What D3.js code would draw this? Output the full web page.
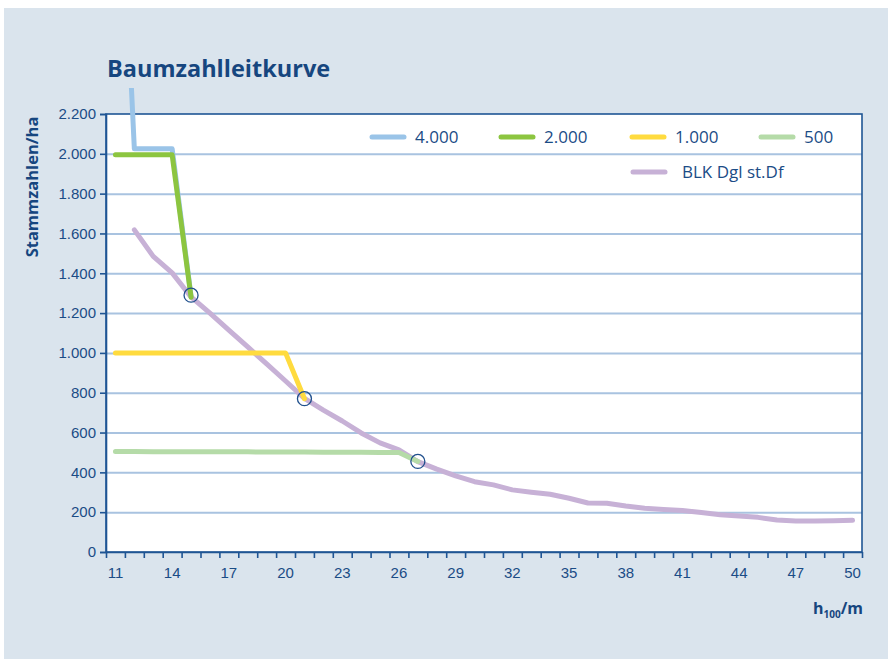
<!DOCTYPE html>
<html>
<head>
  <meta charset="UTF-8">
  <style>
    body { margin: 0; background: #ffffff; }
    svg { display: block; font-family: "Open Sans", sans-serif; }
    .axis text { fill: #1b4c86; font-size: 15px; }
    .axis path, .axis line { stroke: #1f5594; }
  </style>
</head>
<body>
<svg></svg>
<script src="https://d3js.org/d3.v7.min.js"></script>
<script>

let width = 888, height = 659;

// categories: h100 in m
let heights = d3.range(11, 51);

// Stammzahl pro ha, one array per starting density
let s4000 = [4000, 2025, 2025, 2025, 1285];
let s2000 = [1995, 1995, 1995, 1995, 1280];
let s1000 = [1000, 1000, 1000, 1000, 1000, 1000, 1000, 1000, 1000, 1000, 770];
let s500 = [505, 505, 504, 504, 504, 503, 503, 503, 502, 502, 502, 501, 501, 501, 500, 500, 455];
// BLK Dgl st.Df, starts at 12 m
let blk = [1618, 1485, 1402, 1281, 1200, 1115, 1030, 945, 859, 772, 713, 658, 598, 548, 513, 454,
           416, 382, 353, 337, 312, 300, 290, 270, 246, 245, 231, 220, 213, 208, 198, 187, 181,
           174, 161, 156, 156, 157, 159];
// where the curves meet the guide curve
let meetH = [15, 21, 27];
let meetN = [1290, 770, 455];

let yTicks = [0, 200, 400, 600, 800, 1000, 1200, 1400, 1600, 1800, 2000, 2200];

let svg = d3.select("svg").attr("width", width).attr("height", height);

// panel
svg.append("rect")
    .attr("x", 4).attr("y", 8)
    .attr("width", width - 4).attr("height", height - 8)
    .attr("fill", "#dae4ed");

let pLeft = 106, pRight = 862, pTop = 114, pBottom = 552;

let x = d3.scaleBand().domain(heights).range([pLeft, pRight]);
let xEdge = d3.scaleLinear().domain([10.5, 50.5]).range([pLeft, pRight]);
let y = d3.scaleLinear().domain([0, 2200]).range([pBottom, pTop]);

svg.append("rect")
    .attr("x", pLeft).attr("y", pTop)
    .attr("width", pRight - pLeft).attr("height", pBottom - pTop)
    .attr("fill", "white");

// gridlines
svg.append("g")
    .attr("transform", "translate(" + pLeft + ",0)")
    .call(d3.axisLeft(y).tickValues(yTicks.slice(1, -1)).tickSize(-(pRight - pLeft)).tickFormat(""))
    .call(g => g.select(".domain").remove())
    .selectAll("line").attr("stroke", "#a9c3e0").attr("stroke-width", 2);

// plot border
svg.append("rect")
    .attr("x", pLeft).attr("y", pTop)
    .attr("width", pRight - pLeft).attr("height", pBottom - pTop)
    .attr("fill", "none").attr("stroke", "#1f5594").attr("stroke-width", 1.6);

let deFmt = d => d3.format(",")(d).replace(/,/g, ".");

// y axis
svg.append("g").attr("class", "axis")
    .attr("transform", "translate(" + pLeft + ",0)")
    .call(d3.axisLeft(y).tickValues(yTicks).tickSize(6).tickPadding(4).tickFormat(deFmt))
    .call(g => g.selectAll("line").attr("stroke-width", 1.6))
    .call(g => g.select(".domain").attr("stroke-width", 1.6));

// x axis tick marks between categories
svg.append("g").attr("class", "axis")
    .attr("transform", "translate(0," + pBottom + ")")
    .call(d3.axisBottom(xEdge).tickValues(d3.range(10.5, 50.6, 1)).tickSize(6).tickSizeOuter(0).tickFormat(""))
    .call(g => g.selectAll("line").attr("stroke-width", 1.6))
    .call(g => g.select(".domain").attr("stroke-width", 1.6));

// x labels, every third category
svg.append("g").attr("class", "axis")
    .attr("transform", "translate(0," + pBottom + ")")
    .call(d3.axisBottom(x).tickSize(0).tickPadding(15).tickFormat(d => (d - 11) % 3 === 0 ? d : ""))
    .call(g => g.select(".domain").remove());

// lines
svg.append("clipPath").attr("id", "clip")
    .append("rect").attr("x", pLeft).attr("y", 88).attr("width", pRight - pLeft).attr("height", pBottom - 88);

let line = d3.line()
    .x(d => x(d.h) + x.bandwidth() / 2)
    .y(d => y(d.n));

let toPts = (arr, start) => arr.map((n, i) => ({h: start + i, n: n}));

let series = [
    {name: "4.000", data: toPts(s4000, 11), color: "#9ac4e8"},
    {name: "2.000", data: toPts(s2000, 11), color: "#8cc540"},
    {name: "1.000", data: toPts(s1000, 11), color: "#ffdb3f"},
    {name: "500", data: toPts(s500, 11), color: "#b5dba8"},
    {name: "BLK Dgl st.Df", data: toPts(blk, 12), color: "#c7b1d6"}
];

let plot = svg.append("g").attr("clip-path", "url(#clip)");

// guide curve first, start curves on top
plot.append("path")
    .attr("d", line(series[4].data))
    .attr("fill", "none").attr("stroke", series[4].color)
    .attr("stroke-width", 5).attr("stroke-linejoin", "round").attr("stroke-linecap", "round");

series.slice(0, 4).forEach(s => {
    plot.append("path")
        .attr("d", line(s.data))
        .attr("fill", "none").attr("stroke", s.color)
        .attr("stroke-width", 5).attr("stroke-linejoin", "round").attr("stroke-linecap", "round");
});

// circles
svg.selectAll(".meet")
    .data(meetH)
    .enter()
    .append("circle")
    .attr("cx", d => x(d) + x.bandwidth() / 2)
    .attr("cy", (d, i) => y(meetN[i]))
    .attr("r", 7)
    .attr("fill", "none").attr("stroke", "#1f4f8c").attr("stroke-width", 1.3);

// legend
let legPos = [[371, 137], [500, 137], [631, 137], [760, 137], [632, 172]];
series.forEach((s, i) => {
    let g = svg.append("g").attr("transform", "translate(" + legPos[i][0] + "," + legPos[i][1] + ")");
    g.append("line").attr("x1", 1).attr("x2", 33)
        .attr("stroke", s.color).attr("stroke-width", 5).attr("stroke-linecap", "round");
    g.append("text").attr("x", i === 4 ? 50 : 44).attr("y", 6)
        .attr("fill", "#1b4c86").style("font-size", "17px").text(s.name);
});

// titles
svg.append("text")
    .attr("x", 107).attr("y", 77)
    .attr("fill", "#16467f").style("font-size", "23.5px").style("font-weight", "bold")
    .text("Baumzahlleitkurve");

svg.append("text")
    .attr("transform", "translate(38,187) rotate(-90)")
    .attr("text-anchor", "middle")
    .attr("fill", "#16467f").style("font-size", "16.5px").style("font-weight", "bold")
    .text("Stammzahlen/ha");

let xl = svg.append("text")
    .attr("x", 863).attr("y", 614).attr("text-anchor", "end")
    .attr("fill", "#16467f").style("font-size", "16px").style("font-weight", "bold");
xl.append("tspan").text("h");
xl.append("tspan").attr("dy", 4).style("font-size", "10px").text("100");
xl.append("tspan").attr("dy", -4).text("/m");

</script>
</body>
</html>
